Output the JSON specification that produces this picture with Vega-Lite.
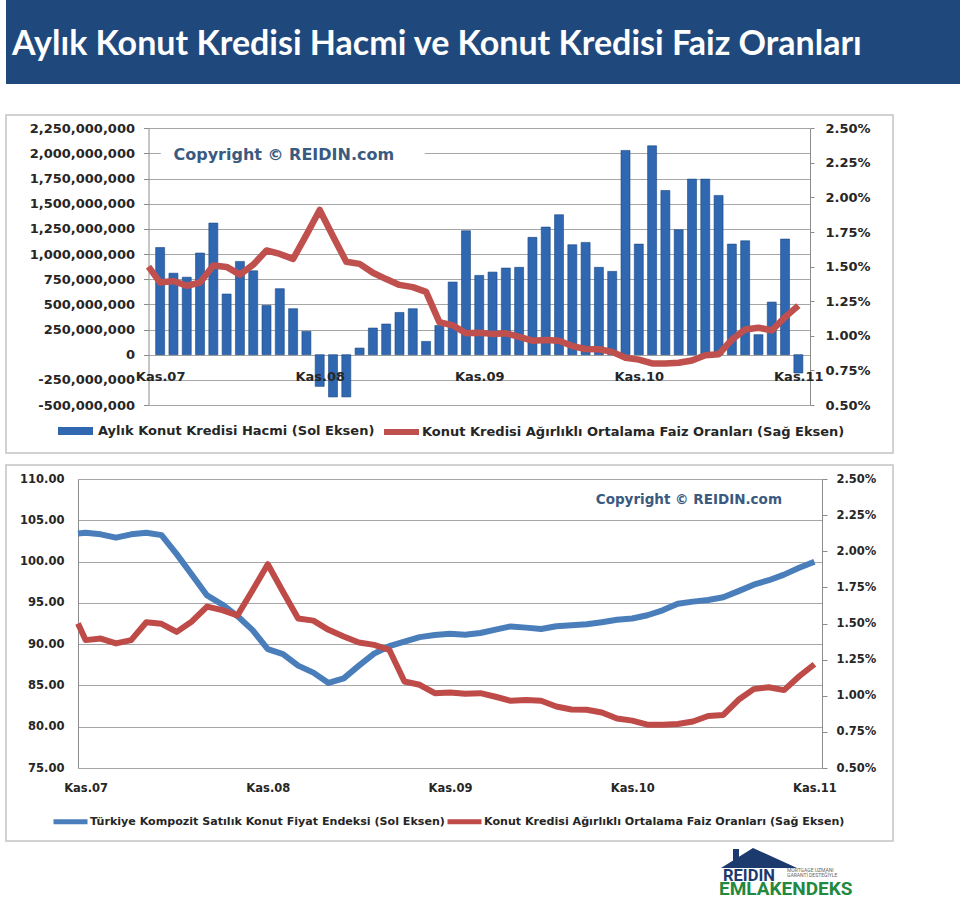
{
  "$schema": "https://vega.github.io/schema/vega-lite/v6.json",
  "padding": {"left": 5, "top": 0, "right": 0, "bottom": 0},
  "background": "white",
  "datasets": {
    "bars": [
      {"i": 0, "v": 1065000000}, {"i": 1, "v": 810000000}, {"i": 2, "v": 770000000}, {"i": 3, "v": 1010000000},
      {"i": 4, "v": 1308000000}, {"i": 5, "v": 603000000}, {"i": 6, "v": 927000000}, {"i": 7, "v": 834000000},
      {"i": 8, "v": 490000000}, {"i": 9, "v": 656000000}, {"i": 10, "v": 457000000}, {"i": 11, "v": 232000000},
      {"i": 12, "v": -315000000}, {"i": 13, "v": -420000000}, {"i": 14, "v": -420000000}, {"i": 15, "v": 66000000},
      {"i": 16, "v": 265000000}, {"i": 17, "v": 305000000}, {"i": 18, "v": 420000000}, {"i": 19, "v": 457000000},
      {"i": 20, "v": 132000000}, {"i": 21, "v": 290000000}, {"i": 22, "v": 722000000}, {"i": 23, "v": 1232000000},
      {"i": 24, "v": 788000000}, {"i": 25, "v": 821000000}, {"i": 26, "v": 861000000}, {"i": 27, "v": 868000000},
      {"i": 28, "v": 1166000000}, {"i": 29, "v": 1268000000}, {"i": 30, "v": 1391000000}, {"i": 31, "v": 1093000000},
      {"i": 32, "v": 1116000000}, {"i": 33, "v": 868000000}, {"i": 34, "v": 828000000}, {"i": 35, "v": 2030000000},
      {"i": 36, "v": 1099000000}, {"i": 37, "v": 2076000000}, {"i": 38, "v": 1632000000}, {"i": 39, "v": 1242000000},
      {"i": 40, "v": 1745000000}, {"i": 41, "v": 1745000000}, {"i": 42, "v": 1583000000}, {"i": 43, "v": 1099000000},
      {"i": 44, "v": 1132000000}, {"i": 45, "v": 199000000}, {"i": 46, "v": 523000000}, {"i": 47, "v": 1149000000},
      {"i": 48, "v": -182000000}
    ],
    "rates": [
      {"i": -1, "r": 1.50}, {"i": 0, "r": 1.385}, {"i": 1, "r": 1.396}, {"i": 2, "r": 1.362}, {"i": 3, "r": 1.385},
      {"i": 4, "r": 1.509}, {"i": 5, "r": 1.498}, {"i": 6, "r": 1.442}, {"i": 7, "r": 1.514}, {"i": 8, "r": 1.617},
      {"i": 9, "r": 1.592}, {"i": 10, "r": 1.556}, {"i": 11, "r": 1.73}, {"i": 12, "r": 1.91}, {"i": 13, "r": 1.72},
      {"i": 14, "r": 1.535}, {"i": 15, "r": 1.52}, {"i": 16, "r": 1.456}, {"i": 17, "r": 1.41}, {"i": 18, "r": 1.368},
      {"i": 19, "r": 1.352}, {"i": 20, "r": 1.318}, {"i": 21, "r": 1.099}, {"i": 22, "r": 1.076}, {"i": 23, "r": 1.018},
      {"i": 24, "r": 1.023}, {"i": 25, "r": 1.014}, {"i": 26, "r": 1.018}, {"i": 27, "r": 0.993}, {"i": 28, "r": 0.965},
      {"i": 29, "r": 0.97}, {"i": 30, "r": 0.965}, {"i": 31, "r": 0.926}, {"i": 32, "r": 0.905}, {"i": 33, "r": 0.903},
      {"i": 34, "r": 0.884}, {"i": 35, "r": 0.842}, {"i": 36, "r": 0.828}, {"i": 37, "r": 0.80}, {"i": 38, "r": 0.80},
      {"i": 39, "r": 0.805}, {"i": 40, "r": 0.822}, {"i": 41, "r": 0.86}, {"i": 42, "r": 0.867}, {"i": 43, "r": 0.972},
      {"i": 44, "r": 1.046}, {"i": 45, "r": 1.059}, {"i": 46, "r": 1.039}, {"i": 47, "r": 1.135}, {"i": 48, "r": 1.218}
    ],
    "index": [
      {"i": -1, "p": 103.4}, {"i": 0, "p": 103.5}, {"i": 1, "p": 103.3}, {"i": 2, "p": 102.9}, {"i": 3, "p": 103.3},
      {"i": 4, "p": 103.5}, {"i": 5, "p": 103.2}, {"i": 6, "p": 100.9}, {"i": 7, "p": 98.4}, {"i": 8, "p": 95.9},
      {"i": 9, "p": 94.8}, {"i": 10, "p": 93.4}, {"i": 11, "p": 91.7}, {"i": 12, "p": 89.4}, {"i": 13, "p": 88.8},
      {"i": 14, "p": 87.4}, {"i": 15, "p": 86.55}, {"i": 16, "p": 85.3}, {"i": 17, "p": 85.85}, {"i": 18, "p": 87.4},
      {"i": 19, "p": 88.85}, {"i": 20, "p": 89.75}, {"i": 21, "p": 90.3}, {"i": 22, "p": 90.85}, {"i": 23, "p": 91.1},
      {"i": 24, "p": 91.25}, {"i": 25, "p": 91.13}, {"i": 26, "p": 91.35}, {"i": 27, "p": 91.75}, {"i": 28, "p": 92.15},
      {"i": 29, "p": 92.0}, {"i": 30, "p": 91.83}, {"i": 31, "p": 92.17}, {"i": 32, "p": 92.28}, {"i": 33, "p": 92.4},
      {"i": 34, "p": 92.66}, {"i": 35, "p": 92.95}, {"i": 36, "p": 93.1}, {"i": 37, "p": 93.5}, {"i": 38, "p": 94.1},
      {"i": 39, "p": 94.9}, {"i": 40, "p": 95.15}, {"i": 41, "p": 95.35}, {"i": 42, "p": 95.68}, {"i": 43, "p": 96.42},
      {"i": 44, "p": 97.2}, {"i": 45, "p": 97.74}, {"i": 46, "p": 98.42}, {"i": 47, "p": 99.24}, {"i": 48, "p": 99.99}
    ]
  },
  "spacing": 31,
  "bounds": "flush",
  "vconcat": [
    {
      "width": 955,
      "height": 84,
      "view": {"fill": "#1f497d", "stroke": null},
      "data": {"values": [{"t": "Aylık Konut Kredisi Hacmi ve Konut Kredisi Faiz Oranları"}]},
      "mark": {"type": "text", "align": "left", "baseline": "alphabetic", "font": "Lato", "fontWeight": "bold", "fontSize": 34, "color": "white"},
      "encoding": {
        "x": {"datum": 0, "scale": {"domain": [0, 1], "range": [6, 955]}, "axis": null},
        "y": {"datum": 0, "scale": {"domain": [0, 1], "range": [55, 0]}, "axis": null},
        "text": {"field": "t"}
      }
    },
    {
      "spacing": 12,
      "bounds": "flush",
      "resolve": {"scale": {"stroke": "independent", "fill": "independent"}},
      "vconcat": [
        {
          "width": 887,
          "height": 338,
          "view": {"stroke": "#c4c4c4", "strokeWidth": 1.5, "fill": "white"},
          "layer": [
            {
              "resolve": {"axis": {"x": "independent", "y": "independent"}},
              "layer": [
                {
                  "data": {"values": [{}]},
                  "mark": {"type": "rect", "fill": "white"},
                  "encoding": {
                    "x": {"datum": 0.05, "scale": {"domain": [-0.5, 48.5], "range": [142.5, 804], "clamp": true, "nice": false, "zero": false}, "axis": null},
                    "x2": {"datum": 19.9},
                    "y": {"datum": 1866000000, "scale": {"domain": [-500000000, 2250000000], "range": [290, 13.3], "nice": false}, "axis": null},
                    "y2": {"datum": 2104000000}
                  }
                },
                {
                  "data": {"values": [{"t": "Copyright © REIDIN.com"}]},
                  "mark": {"type": "text", "align": "left", "baseline": "middle", "font": "DejaVu Sans", "fontWeight": "bold", "fontSize": 16, "color": "#3a5a80"},
                  "encoding": {
                    "x": {"datum": 1, "scale": {"domain": [-0.5, 48.5], "range": [142.5, 804], "clamp": true, "nice": false, "zero": false}, "axis": null},
                    "y": {"datum": 1985000000, "scale": {"domain": [-500000000, 2250000000], "range": [290, 13.3], "nice": false}, "axis": null},
                    "text": {"field": "t"}
                  }
                },
                {
                  "data": {"name": "bars"},
                  "mark": {"type": "bar", "size": 9, "stroke": "#1d4a85", "strokeWidth": 0.6},
                  "encoding": {
                    "x": {"field": "i", "type": "quantitative",
                      "scale": {"domain": [-0.5, 48.5], "range": [142.5, 804], "clamp": true, "nice": false, "zero": false},
                      "axis": {"orient": "bottom", "offset": -98, "values": [0, 12, 24, 36, 48],
                        "labelExpr": "'Kas.' + format(7 + datum.value / 12, '02d')",
                        "title": null, "grid": false, "ticks": false, "domain": false, "zindex": 2,
                        "labelFontSize": 13, "labelPadding": 15, "labelFlush": false, "labelOverlap": false}},
                    "y": {"field": "v", "type": "quantitative",
                      "scale": {"domain": [-500000000, 2250000000], "range": [290, 13.3], "nice": false},
                      "axis": {"orient": "left", "offset": -142.5,
                        "values": [-500000000, -250000000, 0, 250000000, 500000000, 750000000, 1000000000, 1250000000, 1500000000, 1750000000, 2000000000, 2250000000],
                        "labelExpr": "replace(format(datum.value, ','), '−', '-')",
                        "title": null, "grid": true, "tickSize": 5, "labelPadding": 9, "labelFontSize": 13,
                        "labelFlush": false, "labelOverlap": false}},
                    "fill": {"datum": "Aylık Konut Kredisi Hacmi (Sol Eksen)", "scale": {"range": ["#2f67b1"]},
                      "legend": {"orient": "none", "legendX": 52, "legendY": 298.5, "title": null,
                        "symbolType": "M-1,-0.23H1V0.23H-1Z", "symbolSize": 1225, "symbolStrokeWidth": 0,
                        "labelFontSize": 13, "labelOffset": 5}}
                  }
                }
              ]
            },
            {
              "data": {"name": "rates"},
              "mark": {"type": "line", "strokeWidth": 6.5, "strokeJoin": "round", "strokeCap": "butt"},
              "encoding": {
                "x": {"field": "i", "type": "quantitative",
                  "scale": {"domain": [-0.5, 48.5], "range": [142.5, 804], "clamp": true, "nice": false, "zero": false}, "axis": null},
                "y": {"field": "r", "type": "quantitative",
                  "scale": {"domain": [0.5, 2.5], "range": [290, 13.3], "nice": false, "zero": false},
                  "axis": {"orient": "right", "offset": -83, "values": [0.5, 0.75, 1, 1.25, 1.5, 1.75, 2, 2.25, 2.5],
                    "labelExpr": "format(datum.value, '.2f') + '%'", "title": null, "grid": false,
                    "tickSize": 4, "labelPadding": 11, "labelFontSize": 13, "labelFlush": false, "labelOverlap": false}},
                "stroke": {"datum": "Konut Kredisi Ağırlıklı Ortalama Faiz Oranları (Sağ Eksen)", "scale": {"range": ["#c0504d"]},
                  "legend": {"orient": "none", "legendX": 375, "legendY": 296.5, "title": null,
                    "symbolType": "stroke", "symbolSize": 1225, "symbolStrokeWidth": 6,
                    "labelFontSize": 13, "labelOffset": 0}}
              }
            }
          ],
          "resolve": {"scale": {"y": "independent"}, "axis": {"x": "independent"}}
        },
        {
          "spacing": 0,
          "bounds": "flush",
          "vconcat": [
            {
              "width": 887,
              "height": 376,
              "view": {"stroke": "#c4c4c4", "strokeWidth": 1.5, "fill": "white"},
              "layer": [
                {
                  "layer": [
                    {
                      "data": {"name": "index"},
                      "mark": {"type": "line", "strokeWidth": 6, "strokeJoin": "round", "strokeCap": "butt"},
                      "encoding": {
                        "x": {"field": "i", "type": "quantitative",
                          "scale": {"domain": [-0.5, 48.5], "range": [72, 816], "clamp": true, "nice": false, "zero": false},
                          "axis": {"orient": "bottom", "offset": -73, "values": [0, 12, 24, 36, 48],
                            "labelExpr": "'Kas.' + format(7 + datum.value / 12, '02d')",
                            "title": null, "grid": false, "ticks": false, "domain": false,
                            "labelFontSize": 11.5, "labelPadding": 14, "labelFlush": false, "labelOverlap": false}},
                        "y": {"field": "p", "type": "quantitative",
                          "scale": {"domain": [75, 110], "range": [303, 14], "nice": false, "zero": false},
                          "axis": {"orient": "left", "offset": -72, "values": [75, 80, 85, 90, 95, 100, 105, 110],
                            "format": ".2f", "title": null, "grid": true, "ticks": false, "labelPadding": 14,
                            "labelFontSize": 11.5, "labelFlush": false, "labelOverlap": false}},
                        "stroke": {"datum": "Türkiye Kompozit Satılık Konut Fiyat Endeksi (Sol Eksen)",
                          "scale": {"domain": ["Türkiye Kompozit Satılık Konut Fiyat Endeksi (Sol Eksen)", "Konut Kredisi Ağırlıklı Ortalama Faiz Oranları (Sağ Eksen)"], "range": ["#4a7ebb", "#be4b48"]},
                          "legend": {"orient": "none", "legendX": 45, "legendY": 337, "direction": "horizontal", "title": null,
                            "symbolType": "stroke", "symbolSize": 1156, "symbolStrokeWidth": 5,
                            "labelFontSize": 11.1, "labelOffset": 0, "columnPadding": -8}}
                      }
                    },
                    {
                      "data": {"values": [{"t": "Copyright © REIDIN.com"}]},
                      "mark": {"type": "text", "align": "left", "baseline": "middle", "font": "DejaVu Sans", "fontWeight": "bold", "fontSize": 13.5, "color": "#3a5a80"},
                      "encoding": {
                        "x": {"datum": 33.6, "scale": {"domain": [-0.5, 48.5], "range": [72, 816], "clamp": true, "nice": false, "zero": false}},
                        "y": {"datum": 107.46, "scale": {"domain": [75, 110], "range": [303, 14], "nice": false, "zero": false}},
                        "text": {"field": "t"}
                      }
                    }
                  ]
                },
                {
                  "data": {"name": "rates"},
                  "mark": {"type": "line", "strokeWidth": 6, "strokeJoin": "round", "strokeCap": "butt"},
                  "encoding": {
                    "x": {"field": "i", "type": "quantitative",
                      "scale": {"domain": [-0.5, 48.5], "range": [72, 816], "clamp": true, "nice": false, "zero": false}},
                    "y": {"field": "r", "type": "quantitative",
                      "scale": {"domain": [0.5, 2.5], "range": [303, 14], "nice": false, "zero": false},
                      "axis": {"orient": "right", "offset": -71, "values": [0.5, 0.75, 1, 1.25, 1.5, 1.75, 2, 2.25, 2.5],
                        "labelExpr": "format(datum.value, '.2f') + '%'", "title": null, "grid": false,
                        "tickSize": 5, "labelPadding": 9, "labelFontSize": 11.5, "labelFlush": false, "labelOverlap": false}},
                    "stroke": {"datum": "Konut Kredisi Ağırlıklı Ortalama Faiz Oranları (Sağ Eksen)",
                      "scale": {"domain": ["Türkiye Kompozit Satılık Konut Fiyat Endeksi (Sol Eksen)", "Konut Kredisi Ağırlıklı Ortalama Faiz Oranları (Sağ Eksen)"], "range": ["#4a7ebb", "#be4b48"]},
                      "legend": {"orient": "none", "legendX": 45, "legendY": 337, "direction": "horizontal", "title": null,
                        "symbolType": "stroke", "symbolSize": 1156, "symbolStrokeWidth": 5,
                        "labelFontSize": 11.1, "labelOffset": 0, "columnPadding": -8}}
                  }
                }
              ],
              "resolve": {"scale": {"y": "independent"}}
            },
            {
              "width": 955,
              "height": 58,
              "view": {"stroke": null},
              "layer": [
                {
                  "data": {"values": [{}]},
                  "mark": {"type": "point", "shape": "M-1,0.263L-0.684,0.066L-0.684,-0.237L-0.526,-0.237L-0.526,-0.033L-0.158,-0.263L1,0.263Z", "size": 5776, "filled": true, "color": "#1c3a6e", "opacity": 1},
                  "encoding": {
                    "x": {"datum": 753, "scale": {"domain": [0, 955], "range": [0, 955]}, "axis": null},
                    "y": {"datum": 17, "scale": {"domain": [0, 58], "range": [0, 58]}, "axis": null}
                  }
                },
                {
                  "data": {"values": [{"t": "REIDIN"}]},
                  "mark": {"type": "text", "align": "left", "baseline": "alphabetic", "font": "Roboto", "fontWeight": "bold", "fontSize": 16.5, "color": "#1c3a6e"},
                  "encoding": {
                    "x": {"datum": 717, "scale": {"domain": [0, 955], "range": [0, 955]}, "axis": null},
                    "y": {"datum": 39.5, "scale": {"domain": [0, 58], "range": [0, 58]}, "axis": null},
                    "text": {"field": "t"}
                  }
                },
                {
                  "data": {"values": [{"t": "MORTGAGE UZMANI\nGARANTİ DESTEĞİYLE"}]},
                  "mark": {"type": "text", "align": "left", "baseline": "alphabetic", "font": "Roboto", "fontSize": 5, "lineBreak": "\n", "lineHeight": 5.2, "color": "#666666"},
                  "encoding": {
                    "x": {"datum": 781, "scale": {"domain": [0, 955], "range": [0, 955]}, "axis": null},
                    "y": {"datum": 31, "scale": {"domain": [0, 58], "range": [0, 58]}, "axis": null},
                    "text": {"field": "t"}
                  }
                },
                {
                  "data": {"values": [{"t": "EMLAKENDEKS"}]},
                  "mark": {"type": "text", "align": "left", "baseline": "bottom", "font": "Roboto", "fontWeight": "bold", "fontSize": 19, "color": "#23893f"},
                  "encoding": {
                    "x": {"datum": 713, "scale": {"domain": [0, 955], "range": [0, 955]}, "axis": null},
                    "y": {"datum": 58, "scale": {"domain": [0, 58], "range": [0, 58]}, "axis": null},
                    "text": {"field": "t"}
                  }
                }
              ]
            }
          ]
        }
      ]
    }
  ],
  "config": {
    "font": "DejaVu Sans",
    "axis": {"labelFont": "DejaVu Sans", "labelFontWeight": "bold", "labelColor": "#262626", "domainColor": "#8c8c8c", "tickColor": "#8c8c8c", "gridColor": "#a6a6a6", "gridOpacity": 1, "labelBound": false},
    "legend": {"labelFont": "DejaVu Sans", "labelFontWeight": "bold", "labelColor": "#262626", "labelLimit": 1000}
  }
}
